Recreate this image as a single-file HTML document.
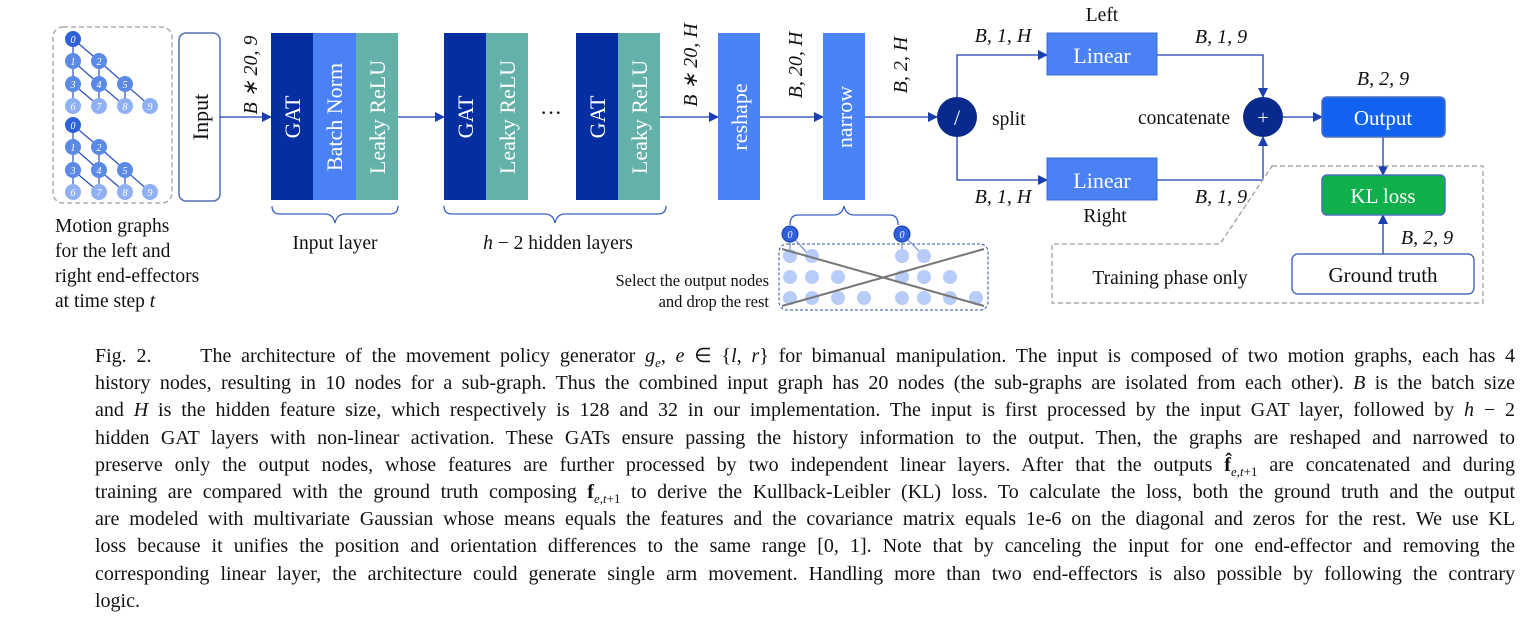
<!DOCTYPE html>
<html><head><meta charset="utf-8"><style>
body{margin:0;width:1527px;height:627px;background:#fff;overflow:hidden;font-family:"Liberation Serif",serif;}
svg{position:absolute;left:0;top:0}
.cap{position:absolute;left:95px;width:1420px;font-size:20px;line-height:27.2px;color:#111;top:343px}
.cap div{text-align:justify;text-align-last:justify;white-space:nowrap;height:27.2px}
.cap div.last{text-align-last:left}
</style></head><body>
<svg width="1527" height="340" viewBox="0 0 1527 340" font-family="Liberation Serif, serif">
<defs>
<marker id="a" markerWidth="10" markerHeight="10" refX="9" refY="5" orient="auto" markerUnits="userSpaceOnUse"><path d="M0,0 L10,5 L0,10z" fill="#1a3fb0"/></marker>
<g id="g">
<g stroke="#2a50c0" stroke-width="1.2">
<line x1="73" y1="39" x2="73" y2="61"/><line x1="73" y1="39" x2="99" y2="61"/>
<line x1="73" y1="61" x2="73" y2="84"/><line x1="73" y1="61" x2="99" y2="84"/>
<line x1="99" y1="61" x2="99" y2="84"/><line x1="99" y1="61" x2="125" y2="84"/>
<line x1="73" y1="84" x2="73" y2="106"/><line x1="73" y1="84" x2="99" y2="106"/>
<line x1="99" y1="84" x2="99" y2="106"/><line x1="99" y1="84" x2="125" y2="106"/>
<line x1="125" y1="84" x2="125" y2="106"/><line x1="125" y1="84" x2="150" y2="106"/>
</g>
<g font-size="10" font-style="italic" fill="#fff" text-anchor="middle">
<circle cx="73" cy="39" r="8" fill="#2f62d8"/><text x="73" y="43">0</text>
<circle cx="73" cy="61" r="8" fill="#5a8ae6"/><text x="73" y="65">1</text>
<circle cx="99" cy="61" r="8" fill="#5a8ae6"/><text x="99" y="65">2</text>
<circle cx="73" cy="84" r="8" fill="#5a8ae6"/><text x="73" y="88">3</text>
<circle cx="99" cy="84" r="8" fill="#5a8ae6"/><text x="99" y="88">4</text>
<circle cx="125" cy="84" r="8" fill="#5a8ae6"/><text x="125" y="88">5</text>
<circle cx="73" cy="106" r="8" fill="#8fb0f2"/><text x="73" y="110">6</text>
<circle cx="99" cy="106" r="8" fill="#8fb0f2"/><text x="99" y="110">7</text>
<circle cx="125" cy="106" r="8" fill="#8fb0f2"/><text x="125" y="110">8</text>
<circle cx="150" cy="106" r="8" fill="#8fb0f2"/><text x="150" y="110">9</text>
</g></g>
</defs>
<rect x="53" y="27" width="119" height="176" rx="10" fill="none" stroke="#aaa" stroke-width="1.5" stroke-dasharray="5,3"/>
<use href="#g"/><use href="#g" transform="translate(0,86)"/>
<text font-size="19.5" fill="#111"><tspan x="55" y="232">Motion graphs</tspan><tspan x="55" y="257">for the left and</tspan><tspan x="55" y="282">right end-effectors</tspan><tspan x="55" y="307">at time step <tspan font-style="italic">t</tspan></tspan></text>
<rect x="179" y="33" width="41" height="168" rx="7" fill="#fff" stroke="#5070b0" stroke-width="1.5"/>
<text transform="translate(208,117) rotate(-90)" font-size="22" text-anchor="middle" fill="#111">Input</text>
<g stroke="#1a3fb0" stroke-width="1.3" fill="none">
<line x1="220" y1="117" x2="271" y2="117" marker-end="url(#a)"/>
<line x1="398" y1="117" x2="444" y2="117" marker-end="url(#a)"/>
<line x1="660" y1="117" x2="718" y2="117" marker-end="url(#a)"/>
<line x1="760" y1="117" x2="823" y2="117" marker-end="url(#a)"/>
<line x1="865" y1="117" x2="937" y2="117" marker-end="url(#a)"/>
<polyline points="957,97 957,55 1047,55" marker-end="url(#a)"/>
<polyline points="957,137 957,180 1047,180" marker-end="url(#a)"/>
<polyline points="1157,55 1263,55 1263,97" marker-end="url(#a)"/>
<polyline points="1157,180 1263,180 1263,137" marker-end="url(#a)"/>
<line x1="1283" y1="117" x2="1322" y2="117" marker-end="url(#a)"/>
<line x1="1383" y1="137" x2="1383" y2="175" marker-end="url(#a)"/>
<line x1="1383" y1="254" x2="1383" y2="215" marker-end="url(#a)"/>
</g>
<g font-size="22" text-anchor="middle">
<rect x="271" y="33" width="42" height="167" fill="#052fa0"/><rect x="313" y="33" width="43" height="167" fill="#4a82f6"/><rect x="356" y="33" width="42" height="167" fill="#63b1a9"/>
<text transform="translate(300,117) rotate(-90)" fill="#fff">GAT</text>
<text transform="translate(342,117) rotate(-90)" fill="#fff">Batch Norm</text>
<text transform="translate(385,117) rotate(-90)" fill="#fff">Leaky ReLU</text>
<rect x="444" y="33" width="42" height="167" fill="#052fa0"/><rect x="486" y="33" width="42" height="167" fill="#63b1a9"/>
<text transform="translate(473,117) rotate(-90)" fill="#fff">GAT</text>
<text transform="translate(515,117) rotate(-90)" fill="#fff">Leaky ReLU</text>
<text x="551" y="120" fill="#111">···</text>
<rect x="576" y="33" width="42" height="167" fill="#052fa0"/><rect x="618" y="33" width="42" height="167" fill="#63b1a9"/>
<text transform="translate(605,117) rotate(-90)" fill="#fff">GAT</text>
<text transform="translate(647,117) rotate(-90)" fill="#fff">Leaky ReLU</text>
<rect x="718" y="33" width="42" height="167" fill="#4a82f8"/>
<text transform="translate(747,117) rotate(-90)" fill="#fff">reshape</text>
<rect x="823" y="33" width="42" height="167" fill="#4a82f8"/>
<text transform="translate(852,117) rotate(-90)" fill="#fff">narrow</text>
</g>
<g font-size="20" font-style="italic" fill="#111" text-anchor="middle">
<text transform="translate(257,75) rotate(-90)">B ∗ 20, 9</text>
<text transform="translate(697,65) rotate(-90)">B ∗ 20, H</text>
<text transform="translate(802,65) rotate(-90)">B, 20, H</text>
<text transform="translate(907,65) rotate(-90)">B, 2, H</text>
<text x="1003" y="42">B, 1, H</text>
<text x="1003" y="203">B, 1, H</text>
<text x="1221" y="43">B, 1, 9</text>
<text x="1221" y="203">B, 1, 9</text>
<text x="1383" y="85">B, 2, 9</text>
<text x="1427" y="244">B, 2, 9</text>
</g>
<g fill="none" stroke="#3a60c0" stroke-width="1.3">
<path d="M272,206 q0,8 8,8 h45 q8,0 10,9 q2,-9 10,-9 h45 q8,0 8,-8"/>
<path d="M444,206 q0,8 8,8 h93 q8,0 10,9 q2,-9 10,-9 h93 q8,0 8,-8"/>
<path d="M790,225 q0,-10 8,-10 h36 q8,0 10,-9 q2,9 10,9 h36 q8,0 8,10"/>
</g>
<text x="335" y="249" font-size="19.5" text-anchor="middle" fill="#111">Input layer</text>
<text x="558" y="249" font-size="19.5" text-anchor="middle" fill="#111"><tspan font-style="italic">h</tspan> − 2 hidden layers</text>
<text font-size="16.5" fill="#111" text-anchor="end"><tspan x="769" y="286">Select the output nodes</tspan><tspan x="769" y="307">and drop the rest</tspan></text>
<rect x="779" y="244" width="209" height="66" rx="8" fill="none" stroke="#3050a0" stroke-width="1" stroke-dasharray="3,2"/>
<g stroke="#6080d0" stroke-width="1"><line x1="790" y1="234" x2="790" y2="256"/><line x1="790" y1="234" x2="810" y2="256"/><line x1="902" y1="234" x2="902" y2="256"/><line x1="902" y1="234" x2="924" y2="256"/></g>
<g fill="#b8ccf8"><circle cx="790" cy="256" r="7"/><circle cx="812" cy="256" r="7"/><circle cx="790" cy="277" r="7"/><circle cx="812" cy="277" r="7"/><circle cx="838" cy="277" r="7"/><circle cx="790" cy="298" r="7"/><circle cx="812" cy="298" r="7"/><circle cx="838" cy="298" r="7"/><circle cx="864" cy="298" r="7"/>
<circle cx="902" cy="256" r="7"/><circle cx="924" cy="256" r="7"/><circle cx="902" cy="277" r="7"/><circle cx="924" cy="277" r="7"/><circle cx="950" cy="277" r="7"/><circle cx="902" cy="298" r="7"/><circle cx="924" cy="298" r="7"/><circle cx="950" cy="298" r="7"/><circle cx="976" cy="298" r="7"/></g>
<circle cx="790" cy="234" r="8" fill="#2f62d8" stroke="#1a3fb0"/><circle cx="902" cy="234" r="8" fill="#2f62d8" stroke="#1a3fb0"/>
<text x="790" y="238" font-size="10" font-style="italic" fill="#fff" text-anchor="middle">0</text><text x="902" y="238" font-size="10" font-style="italic" fill="#fff" text-anchor="middle">0</text>
<g stroke="#777" stroke-width="2"><line x1="782" y1="249" x2="984" y2="306"/><line x1="782" y1="306" x2="984" y2="249"/></g>
<circle cx="957" cy="117" r="20" fill="#082a8c"/><text x="957" y="125" font-size="22" fill="#fff" text-anchor="middle">/</text>
<text x="992" y="125" font-size="19.5" fill="#111">split</text>
<circle cx="1263" cy="117" r="20" fill="#082a8c"/><text x="1263" y="124" font-size="20" fill="#fff" text-anchor="middle">+</text>
<text x="1230" y="124" font-size="19.5" fill="#111" text-anchor="end">concatenate</text>
<rect x="1047" y="33" width="110" height="42" fill="#4a82f6" stroke="#3a6ad0"/><text x="1102" y="63" font-size="22" fill="#fff" text-anchor="middle">Linear</text>
<rect x="1047" y="158" width="110" height="42" fill="#4a82f6" stroke="#3a6ad0"/><text x="1102" y="188" font-size="22" fill="#fff" text-anchor="middle">Linear</text>
<text x="1102" y="21" font-size="19.5" fill="#111" text-anchor="middle">Left</text>
<text x="1105" y="222" font-size="19.5" fill="#111" text-anchor="middle">Right</text>
<path d="M1272,166 H1483 V303 H1052 V244 H1220 Z" fill="none" stroke="#aaa" stroke-width="1.5" stroke-dasharray="5,3"/>
<rect x="1322" y="97" width="123" height="40" rx="5" fill="#1262f2" stroke="#4a70c0" stroke-width="1.5"/><text x="1383" y="125" font-size="21" fill="#fff" text-anchor="middle">Output</text>
<rect x="1322" y="175" width="123" height="40" rx="5" fill="#0db04a" stroke="#4a70c0" stroke-width="1.5"/><text x="1383" y="203" font-size="21" fill="#fff" text-anchor="middle">KL loss</text>
<rect x="1292" y="254" width="182" height="40" rx="6" fill="#fff" stroke="#4a70c0" stroke-width="1.5"/><text x="1383" y="282" font-size="21" fill="#111" text-anchor="middle">Ground truth</text>
<text x="1170" y="284" font-size="19.5" fill="#111" text-anchor="middle">Training phase only</text>
</svg>
<div class="cap">
<div>Fig. 2. &nbsp;&nbsp;&nbsp;&nbsp;The architecture of the movement policy generator <i>g<sub style="font-size:13px">e</sub></i>, <i>e</i> ∈ {<i>l</i>, <i>r</i>} for bimanual manipulation. The input is composed of two motion graphs, each has 4</div>
<div>history nodes, resulting in 10 nodes for a sub-graph. Thus the combined input graph has 20 nodes (the sub-graphs are isolated from each other). <i>B</i> is the batch size</div>
<div>and <i>H</i> is the hidden feature size, which respectively is 128 and 32 in our implementation. The input is first processed by the input GAT layer, followed by <i>h</i> − 2</div>
<div>hidden GAT layers with non-linear activation. These GATs ensure passing the history information to the output. Then, the graphs are reshaped and narrowed to</div>
<div>preserve only the output nodes, whose features are further processed by two independent linear layers. After that the outputs <b>f̂</b><sub style="font-size:13px"><i>e</i>,<i>t</i>+1</sub> are concatenated and during</div>
<div>training are compared with the ground truth composing <b>f</b><sub style="font-size:13px"><i>e</i>,<i>t</i>+1</sub> to derive the Kullback-Leibler (KL) loss. To calculate the loss, both the ground truth and the output</div>
<div>are modeled with multivariate Gaussian whose means equals the features and the covariance matrix equals 1e-6 on the diagonal and zeros for the rest. We use KL</div>
<div>loss because it unifies the position and orientation differences to the same range [0, 1]. Note that by canceling the input for one end-effector and removing the</div>
<div>corresponding linear layer, the architecture could generate single arm movement. Handling more than two end-effectors is also possible by following the contrary</div>
<div class="last">logic.</div>
</div>
</body></html>
